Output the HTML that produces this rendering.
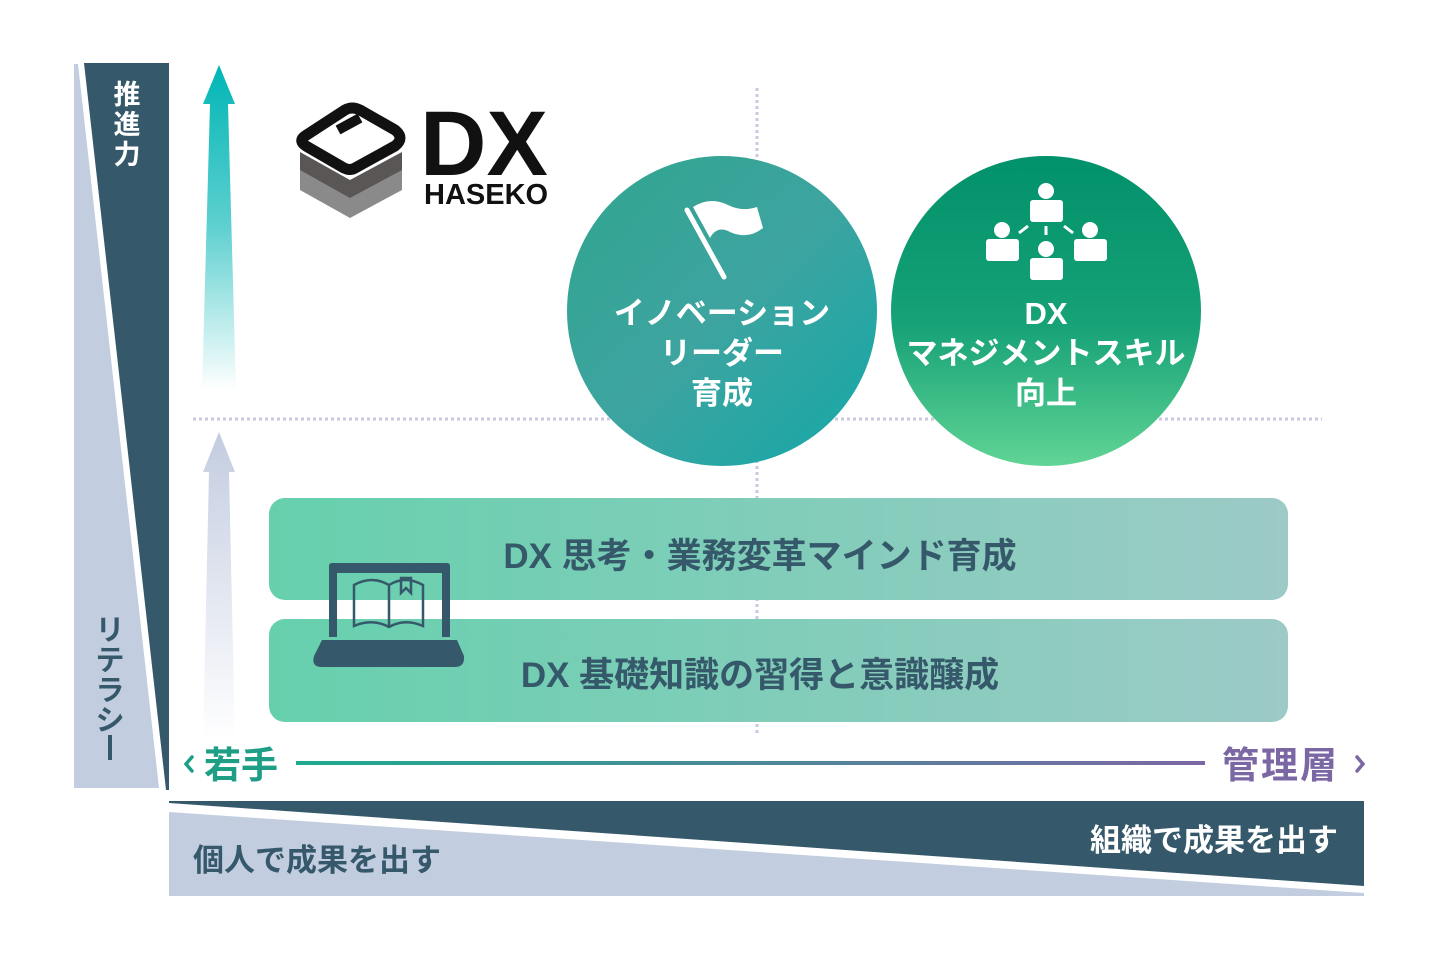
<!DOCTYPE html>
<html><head><meta charset="utf-8"><style>
html,body{margin:0;padding:0;background:#fff}
svg text{font-family:"Liberation Sans","Noto Sans CJK JP",sans-serif;font-weight:bold}
</style></head><body>
<svg width="1440" height="960" viewBox="0 0 1440 960" xmlns="http://www.w3.org/2000/svg">
<defs>
<linearGradient id="ta" x1="0" y1="0" x2="0" y2="1"><stop offset="0" stop-color="#00b5b5"/><stop offset="0.5" stop-color="#5fd0d0"/><stop offset="1" stop-color="#ffffff"/></linearGradient>
<linearGradient id="ga" x1="0" y1="0" x2="0" y2="1"><stop offset="0" stop-color="#c3cce0"/><stop offset="1" stop-color="#ffffff"/></linearGradient>
<linearGradient id="c1" x1="0" y1="0" x2="1" y2="1"><stop offset="0" stop-color="#2fa58e"/><stop offset="0.5" stop-color="#3ea4a0"/><stop offset="1" stop-color="#12a8a8"/></linearGradient>
<linearGradient id="c2" x1="0" y1="0" x2="0" y2="1"><stop offset="0" stop-color="#01916b"/><stop offset="0.55" stop-color="#17a277"/><stop offset="1" stop-color="#60d495"/></linearGradient>
<linearGradient id="bar" x1="0" y1="0" x2="1" y2="0"><stop offset="0" stop-color="#66d0ad"/><stop offset="1" stop-color="#9ccac6"/></linearGradient>
<linearGradient id="ax" gradientUnits="userSpaceOnUse" x1="296" y1="0" x2="1205" y2="0"><stop offset="0" stop-color="#1eaa8e"/><stop offset="1" stop-color="#7b67a4"/></linearGradient>
</defs>
<polygon points="74,64 78,64 159,788 74,788" fill="#c3cde0"/>
<polygon points="84,63 169,63 169,790 166,790" fill="#35596a"/>
<text x="127" y="104" font-size="27" fill="#fff" text-anchor="middle">推</text>
<text x="127" y="134" font-size="27" fill="#fff" text-anchor="middle">進</text>
<text x="127" y="164" font-size="27" fill="#fff" text-anchor="middle">力</text>
<g font-size="29" fill="#35596a" text-anchor="middle">
<text x="110" y="640">リ</text>
<text x="110" y="670">テ</text>
<text x="110" y="700">ラ</text>
<text x="110" y="730">シ</text>
</g>
<rect x="108" y="735" width="4" height="25" fill="#35596a"/>
<polygon points="169,801 1364,801 1364,886 169,803" fill="#35596a"/>
<polygon points="169,812 1364,893 1364,896 169,896" fill="#c3cde0"/>
<text x="193" y="871" font-size="31" fill="#35596a">個人で成果を出す</text>
<text x="1338" y="851" font-size="31" fill="#fff" text-anchor="end">組織で成果を出す</text>
<polygon points="219,65 235,104 228,104 236,390 202,390 210,104 203,104" fill="url(#ta)"/>
<polygon points="219,432 235,472 229,472 235,740 203,740 209,472 203,472" fill="url(#ga)"/>
<line x1="193" y1="419" x2="1322" y2="419" stroke="#c9c9e2" stroke-width="3" stroke-dasharray="3,3"/>
<line x1="757" y1="88" x2="757" y2="735" stroke="#c9c9e2" stroke-width="3" stroke-dasharray="3,3"/>
<g>
<path d="M300,168 L350,196 L402,168 L402,190 L350,218 L300,190Z" fill="#8a8a8a"/>
<path d="M300,152 L350,180 L402,152 L402,170 L350,198 L300,170Z" fill="#5a5656"/>
<path d="M305,136 L345,110 Q352,106 360,110 L395,130 Q405,138 395,146 L355,168 Q350,171 344,168 L306,146 Q298,141 305,136Z" fill="none" stroke="#111" stroke-width="11"/>
<path d="M338,130 L360,118" stroke="#111" stroke-width="10"/>
<text x="420" y="175" font-size="92" fill="#111" font-family="Liberation Sans">DX</text>
<text x="424" y="204" font-size="29" fill="#111" font-family="Liberation Sans">HASEKO</text>
</g>
<circle cx="722" cy="311" r="155" fill="url(#c1)"/>
<circle cx="1046" cy="311" r="155" fill="url(#c2)"/>
<line x1="687" y1="210" x2="724" y2="277" stroke="#fff" stroke-width="5" stroke-linecap="round"/>
<path d="M693,207 Q710,196 728,205 Q742,212 757,207 L763,228 Q748,240 730,232 Q717,225 710,238Z" fill="#fff"/>
<g fill="#fff" font-size="31" text-anchor="middle">
<text x="722" y="324">イノベーション</text>
<text x="722" y="364">リーダー</text>
<text x="722" y="404">育成</text>
<text x="1046" y="324">DX</text>
<text x="1046" y="364">マネジメントスキル</text>
<text x="1046" y="404">向上</text>
</g>
<g fill="#fff">
<circle cx="1046" cy="191" r="8"/><rect x="1030" y="200" width="33" height="22" rx="3"/>
<circle cx="1002" cy="230" r="8"/><rect x="986" y="239" width="33" height="22" rx="3"/>
<circle cx="1090" cy="230" r="8"/><rect x="1074" y="239" width="33" height="22" rx="3"/>
<circle cx="1046" cy="249" r="8"/><rect x="1030" y="258" width="33" height="22" rx="3"/>
</g>
<g stroke="#fff" stroke-width="3"><line x1="1019" y1="233" x2="1028" y2="226"/><line x1="1046" y1="226" x2="1046" y2="235"/><line x1="1064" y1="226" x2="1073" y2="233"/></g>
<rect x="269" y="498" width="1019" height="102" rx="16" fill="url(#bar)"/>
<rect x="269" y="619" width="1019" height="103" rx="16" fill="url(#bar)"/>
<text x="760" y="568" font-size="35" fill="#35596a" text-anchor="middle">DX 思考・業務変革マインド育成</text>
<text x="760" y="687" font-size="35" fill="#35596a" text-anchor="middle">DX 基礎知識の習得と意識醸成</text>
<path d="M329,566 Q329,563 332,563 L447,563 Q450,563 450,566 L450,637 L442,637 L442,573 L337,573 L337,637 L329,637Z" fill="#35596a"/>
<path d="M322,640 L457,640 L464,656 Q465,667 455,667 L322,667 Q311,667 314,656Z" fill="#35596a"/>
<path d="M354,585 Q372,575 389,585 Q405,575 423,585 L423,626 Q405,618 389,627 Q372,618 354,626Z M389,585 L389,627" fill="none" stroke="#35596a" stroke-width="2.5"/>
<path d="M401,578 L411,578 L411,593 L406,588 L401,593Z" fill="none" stroke="#35596a" stroke-width="2.5"/>
<rect x="296" y="761" width="909" height="4" fill="url(#ax)"/>
<path d="M192,757 L186,764 L192,771" fill="none" stroke="#1f9e86" stroke-width="3.5" stroke-linecap="round"/>
<text x="204" y="778" font-size="37" fill="#1f9e86">若手</text>
<text x="1222" y="778" font-size="37" fill="#7b67a4" textLength="115">管理層</text>
<path d="M1357,757 L1363,764 L1357,771" fill="none" stroke="#7b67a4" stroke-width="3.5" stroke-linecap="round"/>
</svg>
</body></html>
